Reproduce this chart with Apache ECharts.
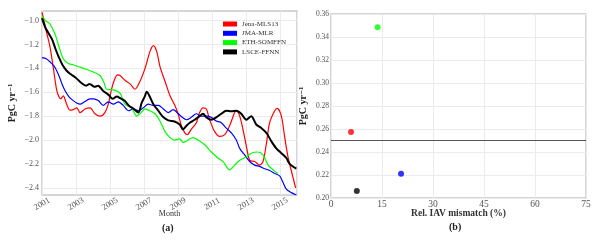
<!DOCTYPE html>
<html><head><meta charset="utf-8">
<script src="https://cdn.jsdelivr.net/npm/echarts@6/dist/echarts.min.js"></script>
<style>html,body{margin:0;padding:0;background:#fff}#c{width:600px;height:242px}</style>
</head><body><div id="c"></div><script>
// ---- Panel (a): time series (decimal year, PgC/yr)
const jenaT = [2001.0,2001.27,2001.47,2001.67,2001.86,2002.0,2002.1,2002.25,2002.45,2002.65,2002.84,2003.04,2003.24,2003.53,2003.82,2004.12,2004.41,2004.7,2004.9,2005.1,2005.29,2005.45,2005.59,2005.88,2006.18,2006.47,2006.76,2007.06,2007.35,2007.55,2007.75,2007.94,2008.24,2008.53,2008.82,2009.0,2009.2,2009.4,2009.55,2009.78,2010.08,2010.27,2010.47,2010.67,2010.86,2011.16,2011.45,2011.75,2012.04,2012.33,2012.43,2012.63,2012.82,2013.02,2013.22,2013.51,2013.8,2014.0,2014.2,2014.39,2014.69,2014.84,2015.08,2015.27,2015.47,2015.76,2015.92];
const jenaV = [-0.93,-1.10,-1.22,-1.40,-1.58,-1.64,-1.655,-1.63,-1.70,-1.75,-1.745,-1.73,-1.77,-1.74,-1.73,-1.78,-1.80,-1.77,-1.70,-1.57,-1.485,-1.455,-1.46,-1.50,-1.53,-1.575,-1.51,-1.40,-1.26,-1.21,-1.26,-1.385,-1.51,-1.63,-1.71,-1.78,-1.88,-1.94,-1.955,-1.91,-1.855,-1.77,-1.73,-1.74,-1.83,-1.93,-1.97,-1.955,-1.88,-1.77,-1.755,-1.80,-1.91,-2.05,-2.17,-2.18,-2.21,-2.18,-2.03,-1.855,-1.755,-1.735,-1.80,-1.97,-2.14,-2.31,-2.40];

const jmaT = [2001.0,2001.25,2001.5,2001.7,2001.9,2002.06,2002.2,2002.35,2002.6,2002.84,2003.04,2003.24,2003.5,2003.82,2004.02,2004.31,2004.6,2004.9,2005.2,2005.49,2005.78,2006.08,2006.37,2006.67,2006.96,2007.25,2007.55,2007.84,2008.14,2008.43,2008.72,2009.02,2009.25,2009.49,2009.78,2010.08,2010.37,2010.67,2010.96,2011.25,2011.55,2011.84,2012.14,2012.43,2012.63,2012.92,2013.22,2013.51,2013.8,2014.1,2014.39,2014.69,2014.98,2015.18,2015.37,2015.67,2015.96];
const jmaV = [-1.31,-1.32,-1.35,-1.38,-1.43,-1.485,-1.54,-1.585,-1.64,-1.67,-1.69,-1.70,-1.68,-1.655,-1.655,-1.67,-1.71,-1.68,-1.70,-1.68,-1.71,-1.755,-1.74,-1.755,-1.73,-1.70,-1.71,-1.71,-1.74,-1.77,-1.745,-1.78,-1.81,-1.83,-1.81,-1.78,-1.80,-1.80,-1.81,-1.84,-1.855,-1.90,-1.94,-2.00,-2.07,-2.125,-2.18,-2.21,-2.22,-2.24,-2.255,-2.28,-2.30,-2.355,-2.41,-2.44,-2.46];

const ethT = [2001.0,2001.2,2001.47,2001.76,2001.96,2002.25,2002.55,2002.84,2003.24,2003.63,2004.02,2004.41,2004.65,2004.8,2005.2,2005.6,2005.88,2006.27,2006.57,2006.76,2007.06,2007.35,2007.65,2007.94,2008.24,2008.53,2008.8,2009.1,2009.3,2009.6,2009.88,2010.18,2010.57,2010.96,2011.35,2011.65,2012.04,2012.33,2012.63,2013.02,2013.31,2013.7,2014.0,2014.3,2014.6,2014.88];
const ethV = [-0.96,-1.00,-1.03,-1.11,-1.20,-1.32,-1.36,-1.37,-1.39,-1.41,-1.43,-1.46,-1.52,-1.575,-1.58,-1.61,-1.70,-1.73,-1.80,-1.78,-1.74,-1.755,-1.78,-1.84,-1.93,-1.98,-2.00,-1.99,-2.02,-2.00,-1.98,-2.00,-2.04,-2.10,-2.15,-2.18,-2.25,-2.21,-2.17,-2.14,-2.11,-2.10,-2.125,-2.21,-2.25,-2.28];

const lsceT = [2001.0,2001.2,2001.4,2001.6,2001.8,2002.0,2002.2,2002.45,2002.7,2003.0,2003.3,2003.6,2003.8,2004.1,2004.3,2004.6,2004.9,2005.15,2005.4,2005.6,2005.85,2006.1,2006.4,2006.67,2006.86,2007.06,2007.16,2007.35,2007.55,2007.84,2008.14,2008.43,2008.8,2009.1,2009.29,2009.5,2009.69,2009.98,2010.27,2010.47,2010.67,2010.96,2011.25,2011.55,2011.84,2012.14,2012.43,2012.72,2013.02,2013.31,2013.6,2013.9,2014.2,2014.49,2014.78,2015.08,2015.37,2015.57,2015.96];
const lsceV = [-0.98,-1.06,-1.11,-1.16,-1.24,-1.31,-1.37,-1.42,-1.45,-1.48,-1.52,-1.545,-1.53,-1.555,-1.545,-1.59,-1.62,-1.655,-1.635,-1.65,-1.67,-1.71,-1.74,-1.77,-1.69,-1.63,-1.595,-1.64,-1.70,-1.755,-1.81,-1.835,-1.845,-1.87,-1.91,-1.88,-1.855,-1.83,-1.80,-1.78,-1.81,-1.83,-1.81,-1.78,-1.755,-1.76,-1.755,-1.78,-1.83,-1.80,-1.87,-1.90,-1.94,-2.01,-2.07,-2.11,-2.15,-2.20,-2.24];

const seriesNames = ['Jena-MLS13','JMA-MLR','ETH-SOMFFN','LSCE-FFNN'];
const seriesColors = ['#ff0000','#0000ff','#00ff00','#000000'];
const yearTicks = [2001,2003,2005,2007,2009,2011,2013,2015];
const fluxTicks = [-2.4,-2.2,-2.0,-1.8,-1.6,-1.4,-1.2,-1.0];

// ---- Panel (b): scatter
const iavMismatch = [5.9, 20.6, 13.7, 7.6];
const iavValue = [0.2573, 0.2211, 0.3485, 0.2060];
const refValue = 0.2532;

const zip = (t, v) => t.map((x, i) => [x, v[i]]);
const lineData = [zip(jenaT, jenaV), zip(jmaT, jmaV), zip(ethT, ethV), zip(lsceT, lsceV)];

const serif = 'Liberation Serif, DejaVu Serif, serif';
const tickColor = '#555';
const gridLine = {show: true, lineStyle: {color: '#ebebeb', width: 1}};

const chart = echarts.init(document.getElementById('c'), null, {renderer: 'canvas'});
chart.setOption({
  animation: false,
  backgroundColor: '#fff',
  legend: {
    data: seriesNames, orient: 'vertical', left: 218, top: 15,
    icon: 'rect', itemWidth: 14, itemHeight: 5, itemGap: 1.3,
    textStyle: {fontFamily: serif, fontSize: 7, lineHeight: 8, color: '#333'}
  },
  grid: [
    {left: 42, top: 11, width: 255, height: 184, show: true, borderColor: '#c8c8c8', borderWidth: 1.5},
    {left: 331, top: 14, width: 255, height: 184, show: true, borderColor: '#c8c8c8', borderWidth: 1.5}
  ],
  xAxis: [
    {type: 'value', gridIndex: 0, min: 2001, max: 2016, interval: 2,
     axisLine: {show: false}, axisTick: {show: false}, splitLine: gridLine,
     axisLabel: {rotate: 30, margin: 9, align: 'center', verticalAlign: 'middle',
       fontFamily: serif, fontSize: 8.5, color: tickColor,
       formatter: v => yearTicks.includes(v) ? String(v) : ''},
     name: 'Month', nameLocation: 'middle', nameGap: 15, nameMoveOverlap: false,
     nameTextStyle: {fontFamily: serif, fontSize: 8, color: '#333'}},
    {type: 'value', gridIndex: 1, min: 0, max: 75, interval: 15,
     axisLine: {show: false}, axisTick: {show: false}, splitLine: gridLine,
     axisLabel: {margin: 1, fontFamily: serif, fontSize: 9.5, color: tickColor},
     name: 'Rel. IAV mismatch (%)', nameLocation: 'middle', nameGap: 11, nameMoveOverlap: false,
     nameTextStyle: {fontFamily: serif, fontSize: 9.5, fontWeight: 'bold', color: '#333'}}
  ],
  yAxis: [
    {type: 'value', gridIndex: 0, min: -2.46, max: -0.92,
     axisLine: {show: false},
     axisTick: {show: false, customValues: fluxTicks}, splitLine: gridLine,
     axisLabel: {margin: 3, fontFamily: serif, fontSize: 8, color: tickColor,
       customValues: fluxTicks,
       formatter: v => (v < 0 ? '\u2212' : '') + Math.abs(v).toFixed(1)},
     name: 'PgC yr\u207B\u00B9', nameLocation: 'middle', nameGap: 25, nameMoveOverlap: false,
     nameTextStyle: {fontFamily: serif, fontSize: 10, fontWeight: 'bold', color: '#222'}},
    {type: 'value', gridIndex: 1, min: 0.20, max: 0.36, interval: 0.02,
     axisLine: {show: false}, axisTick: {show: false}, splitLine: gridLine,
     axisLabel: {margin: 2, fontFamily: serif, fontSize: 7.5, color: tickColor,
       formatter: v => v.toFixed(2)},
     name: 'PgC yr\u207B\u00B9', nameLocation: 'middle', nameGap: 23, nameMoveOverlap: false,
     nameTextStyle: {fontFamily: serif, fontSize: 10, fontWeight: 'bold', color: '#222'}}
  ],
  series: [
    ...seriesNames.map((n, i) => ({
      name: n, type: 'line', xAxisIndex: 0, yAxisIndex: 0, data: lineData[i],
      showSymbol: false, smooth: 0.3, color: seriesColors[i],
      lineStyle: {width: i === 3 ? 2 : 1.2, color: seriesColors[i]},
      z: i === 3 ? 3 : 2
    })),
    {type: 'scatter', xAxisIndex: 1, yAxisIndex: 1, symbolSize: 6,
     data: iavMismatch.map((x, i) => ({value: [x, iavValue[i]], itemStyle: {color: seriesColors[i]}})),
     markLine: {silent: true, symbol: 'none', label: {show: false},
       lineStyle: {color: '#555', width: 1, type: 'solid'},
       data: [{yAxis: refValue}]}}
  ],
  graphic: [
    {type: 'text', left: 162, top: 223, style: {text: '(a)', font: 'bold 10px ' + serif, fill: '#222'}},
    {type: 'text', left: 449, top: 222, style: {text: '(b)', font: 'bold 10px ' + serif, fill: '#222'}}
  ]
});
</script></body></html>
